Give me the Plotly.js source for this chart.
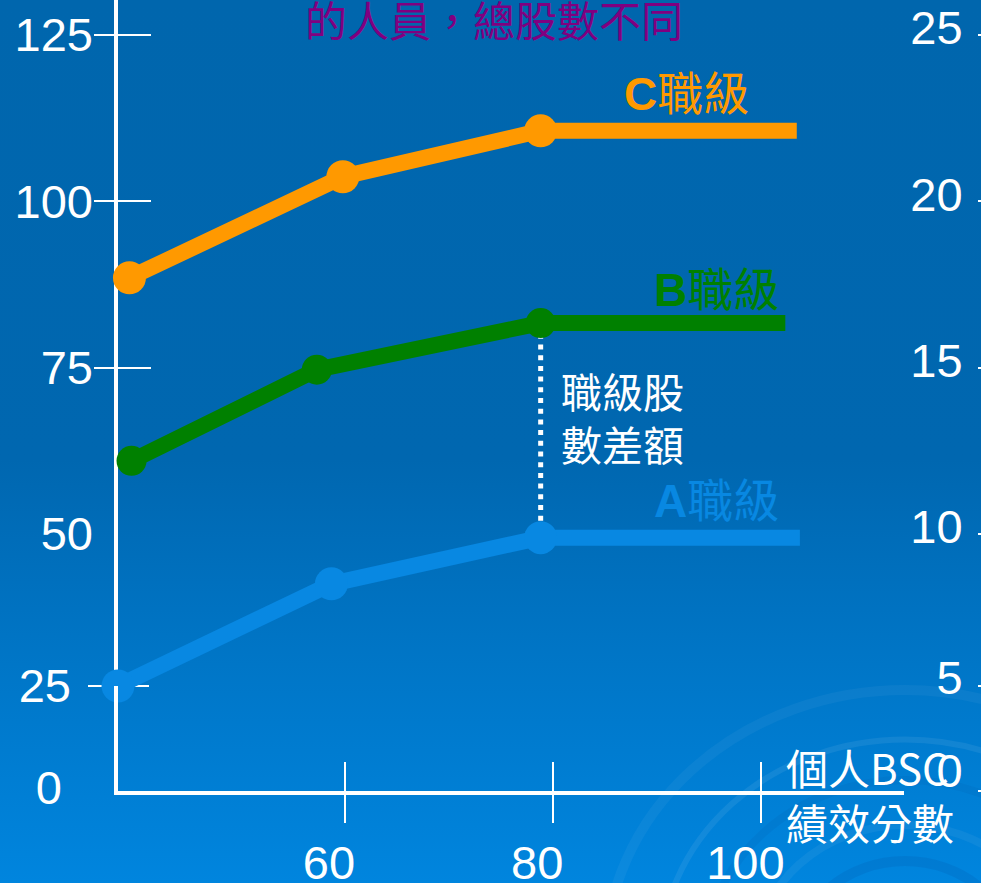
<!DOCTYPE html>
<html>
<head>
<meta charset="utf-8">
<script src="https://cdn.plot.ly/plotly-3.0.1.min.js"></script>
<style>
  html, body { margin: 0; padding: 0; }
  body {
    width: 981px; height: 883px; overflow: hidden;
    background: linear-gradient(to bottom, #0066ad 0%, #0067b0 52%, #0074c4 72%, #0085de 100%);
  }
  #chart { width: 981px; height: 883px; }
</style>
</head>
<body>
<div id="chart"></div>
<script>
// BSC performance score (x) and total shares (left axis) for each job grade
const scoreA  = [38.2, 58.7, 78.8, 103.7];
const sharesA = [25.0, 41.8, 49.4, 49.4];
const scoreB  = [39.5, 57.3, 78.8, 102.3];
const sharesB = [61.0, 74.7, 81.7, 81.7];
const scoreC  = [39.3, 59.8, 78.8, 103.4];
const sharesC = [88.5, 103.7, 110.6, 110.6];

const gradeLabels = ['<b>A</b>職級', '<b>B</b>職級', '<b>C</b>職級'];
const leftTickVals = [0, 25, 50, 75, 100, 125];
const rightTickVals = [0, 5, 10, 15, 20, 25];
const scoreTickVals = [60, 80, 100];
const titleText = '的人員，總股數不同';
const gapText = '職級股<br>數差額';
const scoreTitleText = '個人BSC<br>績效分數';

const W = 981, H = 883;
const LATIN = "'Liberation Sans', Arial, 'Noto Sans CJK TC', sans-serif";
const CJK = "'Noto Sans CJK TC', 'Liberation Sans', sans-serif";
const colA = '#0888e2', colB = '#008000', colC = '#ff9900';

// The share axis is drawn as three stacked linear bands (0-25, 25-50, 50-top);
// padPx widens a band's drawing area without changing its scale so thick lines are not cut.
const bands = [
  { id: '',  lo: 50, hi: 130.26, dom: [1 - 534 / H, 1],           padPx: 0 },
  { id: '2', lo: 25, hi: 50,     dom: [1 - 686 / H, 1 - 534 / H], padPx: 22 },
  { id: '3', lo: 0,  hi: 25,     dom: [1 - 791 / H, 1 - 686 / H], padPx: 0 }
];
bands.forEach(b => {
  const upp = (b.hi - b.lo) / (b.dom[1] - b.dom[0]);
  const d0 = Math.max(0, b.dom[0] - b.padPx / H), d1 = Math.min(1, b.dom[1] + b.padPx / H);
  b.domain = [d0, d1];
  b.range = [b.lo - (b.dom[0] - d0) * upp, b.hi + (d1 - b.dom[1]) * upp];
});
const bandOf = vals => bands.find(b => Math.min(...vals) >= b.lo && Math.max(...vals) <= b.hi);

const traces = [];
// empty traces so that every axis pair becomes a drawn subplot
const axisPairs = [['x', 'y'], ['x', 'y2'], ['x', 'y3'], ['x2', 'y3'],
  ['x', 'y4'], ['x', 'y5'], ['x', 'y6'], ['x', 'y7'], ['x', 'y8'], ['x', 'y9']];
axisPairs.forEach(([xa, ya]) => traces.push({
  type: 'scatter', mode: 'lines', x: [], y: [], xaxis: xa, yaxis: ya,
  hoverinfo: 'skip', showlegend: false
}));

// dotted gap between grade B and grade A at the same score
const gapTop = sharesB[2], gapBottom = sharesA[2];
bands.forEach(b => {
  const top = Math.min(gapTop, b.hi), bot = Math.max(gapBottom, b.lo);
  if (top > bot) {
    traces.push({
      type: 'scatter', mode: 'lines', x: [scoreB[2], scoreB[2]], y: [top, bot],
      xaxis: 'x', yaxis: 'y' + b.id,
      line: { color: '#ffffff', width: 5, dash: '5px,5.7px' },
      hoverinfo: 'skip', showlegend: false
    });
  }
});

function gradeTrace(xs, ys, color, size) {
  const b = bandOf(ys);
  return {
    type: 'scatter', mode: 'lines+markers', x: xs, y: ys,
    xaxis: 'x', yaxis: 'y' + b.id,
    line: { color: color, width: 16 },
    marker: { color: color, opacity: 1, line: { width: 0 },
              size: xs.map((_, i) => i < xs.length - 1 ? size : 0) },
    cliponaxis: false, hoverinfo: 'skip', showlegend: false
  };
}
traces.push(gradeTrace(scoreC, sharesC, colC, 33));
traces.push(gradeTrace(scoreB, sharesB, colB, 30));
traces.push(gradeTrace(scoreA, sharesA, colA, 33));

const xRange = [38.2, 113.7];
const white = '#ffffff';
const layout = {
  width: W, height: H,
  margin: { l: 0, r: 0, t: 0, b: 0, pad: 0 },
  paper_bgcolor: 'rgba(0,0,0,0)',
  plot_bgcolor: 'rgba(0,0,0,0)',
  showlegend: false,
  title: {
    text: titleText, xref: 'paper', yref: 'container',
    x: 494 / W, xanchor: 'center', y: 1 - 22 / H, yanchor: 'middle',
    font: { family: CJK, size: 42, color: '#800080' }
  },
  xaxis: {
    domain: [118 / W, 904 / W], range: xRange, anchor: 'y3',
    showline: true, linecolor: white, linewidth: 4,
    ticks: '', showticklabels: false, showgrid: false, zeroline: false,
    layer: 'below traces', fixedrange: true
  },
  xaxis2: {
    overlaying: 'x', anchor: 'free', position: 1 - 761 / H, side: 'bottom',
    range: xRange, tickmode: 'array', tickvals: scoreTickVals,
    ticks: 'outside', ticklen: 61, tickwidth: 2, tickcolor: white,
    showline: false, showgrid: false, zeroline: false,
    tickfont: { family: LATIN, size: 47, color: white },
    ticklabelshift: -16, layer: 'below traces', fixedrange: true
  },
  shapes: [],
  annotations: []
};

// base bands: the vertical axis line
bands.forEach(b => {
  layout['yaxis' + b.id] = {
    domain: b.domain, range: b.range, anchor: 'x',
    showline: true, linecolor: white, linewidth: 4,
    ticks: '', showticklabels: false, showgrid: false, zeroline: false,
    layer: 'below traces', fixedrange: true
  };
});

// left share ticks (crossing the axis line) with their labels; the right scale is one fifth of it
const leftTickLen = [57, 61, 0];
const leftPos = [93 / W, 87 / W, 62 / W];
const leftStandoff = [0, 16, 0];
const leftShift = [0, 0, -3];
const rightShift = [-7, -8, -20];
bands.forEach((b, i) => {
  layout['yaxis' + (4 + i)] = {
    overlaying: 'y' + b.id, anchor: 'free', position: leftPos[i], side: 'left',
    range: b.range, tickmode: 'array',
    tickvals: leftTickVals.filter(v => v >= b.lo && v < b.hi),
    ticks: leftTickLen[i] ? 'inside' : '', ticklen: leftTickLen[i], tickwidth: 2, tickcolor: white,
    ticklabelstandoff: leftStandoff[i], ticklabelshift: leftShift[i],
    showline: false, showgrid: false, zeroline: false,
    tickfont: { family: LATIN, size: 47, color: white },
    layer: 'below traces', fixedrange: true
  };
  layout['yaxis' + (7 + i)] = {
    overlaying: 'y' + b.id, anchor: 'free', position: 1, side: 'left',
    range: b.range.map(v => v / 5), tickmode: 'array',
    tickvals: rightTickVals.filter(v => v >= b.lo / 5 && v < b.hi / 5),
    ticks: 'outside', ticklen: 3, tickwidth: 2, tickcolor: white,
    ticklabelstandoff: 6, ticklabelshift: rightShift[i],
    showline: false, showgrid: false, zeroline: false,
    tickfont: { family: LATIN, size: 47, color: white },
    layer: 'below traces', fixedrange: true
  };
});

// grade labels next to the flat part of each line
const labelPos = [[716, 501], [716, 290], [686, 94]];
const labelCol = [colA, colB, colC];
gradeLabels.forEach((t, i) => {
  layout.annotations.push({
    text: t, xref: 'paper', yref: 'paper',
    x: labelPos[i][0] / W, y: 1 - labelPos[i][1] / H,
    xanchor: 'center', yanchor: 'middle', showarrow: false,
    font: { family: LATIN, size: 46, color: labelCol[i] }
  });
});
layout.annotations.push({
  text: gapText, xref: 'paper', yref: 'paper',
  x: 559 / W, y: 1 - 416 / H, xanchor: 'left', yanchor: 'middle', align: 'left',
  showarrow: false, font: { family: CJK, size: 41, color: white }
});
layout.annotations.push({
  text: scoreTitleText, xref: 'paper', yref: 'paper',
  x: 784 / W, y: 1 - 794 / H, xanchor: 'left', yanchor: 'middle', align: 'left',
  showarrow: false, font: { family: CJK, size: 42, color: white }
});

// faint swirl in the lower right corner of the backdrop
const swirl = [
  [110, 'rgba(0,50,130,0.10)', 10],
  [150, 'rgba(255,255,255,0.05)', 8],
  [200, 'rgba(0,50,130,0.07)', 8],
  [245, 'rgba(255,255,255,0.07)', 6],
  [300, 'rgba(255,255,255,0.045)', 10]
];
swirl.forEach(([r, c, w]) => {
  layout.shapes.push({
    type: 'circle', xref: 'paper', yref: 'paper', layer: 'below',
    x0: (905 - r) / W, x1: (905 + r) / W, y0: 1 - (960 + r * 0.9) / H, y1: 1 - (960 - r * 0.9) / H,
    line: { color: c, width: w }, fillcolor: 'rgba(0,0,0,0)'
  });
});

Plotly.newPlot('chart', traces, layout, { staticPlot: true, displayModeBar: false });
</script>
</body>
</html>
